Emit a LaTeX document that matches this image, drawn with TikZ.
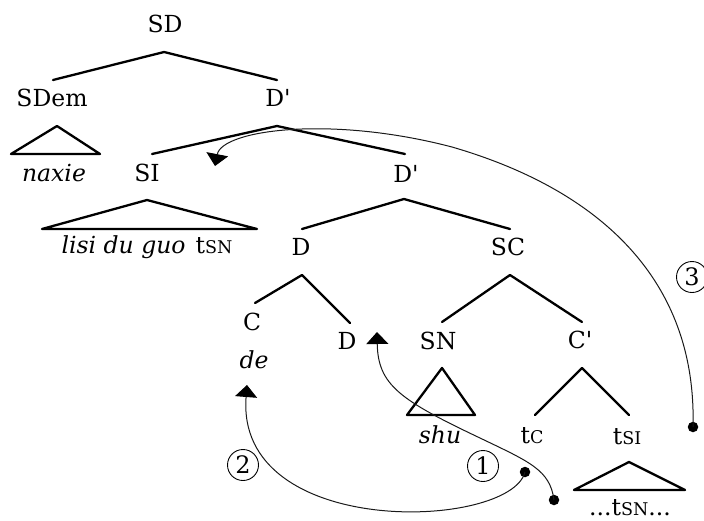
\documentclass[tikz,border=0pt]{standalone}
\usepackage{fontspec}
\setmainfont{DejaVu Serif}[Ligatures=TeXOff]
\usetikzlibrary{arrows.meta}
\newcommand\smk[1]{{\fontsize{17.5}{17.5}\selectfont #1}}
\begin{document}
\begin{tikzpicture}[x=1pt,y=-1pt,
  lab/.style={inner sep=0pt, anchor=base, font=\fontsize{23.5}{23.5}\selectfont},
  branch/.style={line width=2.3pt, line join=round, line cap=round},
  mv/.style={line width=1pt, draw=black!90, -{Triangle[width=22pt,length=12pt,fill=black,color=black]}},
  dotn/.style={circle, fill=black, inner sep=0pt, minimum size=10.5pt},
  num/.style={circle, draw, line width=0.9pt, minimum size=31pt, inner sep=0pt,
    font=\fontsize{24}{24}\selectfont}]
\useasboundingbox (0,0) rectangle (704,520);
% labels
\node[lab] (sd) at (165,32) {SD};
\node[lab] (sdem) at (52,106) {SDem};
\node[lab] (dp1) at (278,106) {D'};
\node[lab] (naxie) at (54,181) {\itshape naxie};
\node[lab] (si) at (147,181) {SI};
\node[lab] (dp2) at (406,182) {D'};
\node[lab] (lisi) at (147,253) {\itshape lisi du guo\hspace{10pt}\upshape t\smk{SN}};
\node[lab] (d1) at (301,255) {D};
\node[lab] (sc) at (508,255) {SC};
\node[lab] (c) at (252,330) {C};
\node[lab] (de) at (254,368) {\itshape de};
\node[lab] (d2) at (347,349) {D};
\node[lab] (sn) at (438,349) {SN};
\node[lab] (cp) at (580,348) {C'};
\node[lab] (shu) at (440,443) {\itshape shu};
\node[lab] (tc) at (532,443) {t\smk{C}};
\node[lab] (tsi) at (627,444) {t\smk{SI}};
\node[lab] (tsn) at (630,515) {...t\smk{SN}...};
% numbers
\node[num] (n1) at (483,466) {1};
\node[num] (n2) at (243,465) {2};
\node[num] (n3) at (692,277) {3};
% branch coordinates
\coordinate (aSD) at (164,52); \coordinate (eSDem) at (53,80); \coordinate (eDp1) at (277,80);
\coordinate (aDp1) at (277,126); \coordinate (eSI) at (152,154); \coordinate (eDp2) at (405,154);
\coordinate (aSDem) at (57,126); \coordinate (lSDem) at (11,154); \coordinate (rSDem) at (100,154);
\coordinate (aSI) at (147,200); \coordinate (lSI) at (42,229); \coordinate (rSI) at (257,229);
\coordinate (aDp2) at (404,199); \coordinate (eD1) at (302,229); \coordinate (eSC) at (510,229);
\coordinate (aD1) at (302,275); \coordinate (eC) at (255,303); \coordinate (eD2) at (350,323);
\coordinate (aSC) at (510,275); \coordinate (eSN) at (442,322); \coordinate (eCp) at (582,322);
\coordinate (aSN) at (442,368); \coordinate (lSN) at (407,415); \coordinate (rSN) at (475,415);
\coordinate (aCp) at (582,368); \coordinate (eTc) at (535,415); \coordinate (eTsi) at (629,415);
\coordinate (aTsi) at (629,462); \coordinate (lTsi) at (574,490); \coordinate (rTsi) at (685,490);
% branches
\draw[branch] (eSDem) -- (aSD) -- (eDp1);
\draw[branch] (eSI) -- (aDp1) -- (eDp2);
\draw[branch] (aSDem) -- (lSDem) -- (rSDem) -- cycle;
\draw[branch] (aSI) -- (lSI) -- (rSI) -- cycle;
\draw[branch] (eD1) -- (aDp2) -- (eSC);
\draw[branch] (eC) -- (aD1) -- (eD2);
\draw[branch] (eSN) -- (aSC) -- (eCp);
\draw[branch] (aSN) -- (lSN) -- (rSN) -- cycle;
\draw[branch] (eTc) -- (aCp) -- (eTsi);
\draw[branch] (aTsi) -- (lTsi) -- (rTsi) -- cycle;
% movement dots and targets
\node[dotn] (p3) at (693,427) {};
\node[dotn] (p2) at (525,472) {};
\node[dotn] (p1) at (554,500) {};
\coordinate (t3) at (215,166);
\coordinate (t2) at (247,385);
\coordinate (t1) at (377,332);
% movement arrows
\draw[mv] (p3.center) .. controls (697,280) and (600,190) .. (452,147)
  .. controls (330,115) and (222,130) .. (t3);
\draw[mv] (p2.center) .. controls (510,530) and (235,540) .. (t2);
\draw[mv] (p1.center) .. controls (550,470) and (530,462) .. (480,438)
  .. controls (400,400) and (378,385) .. (t1);
\end{tikzpicture}
\end{document}
